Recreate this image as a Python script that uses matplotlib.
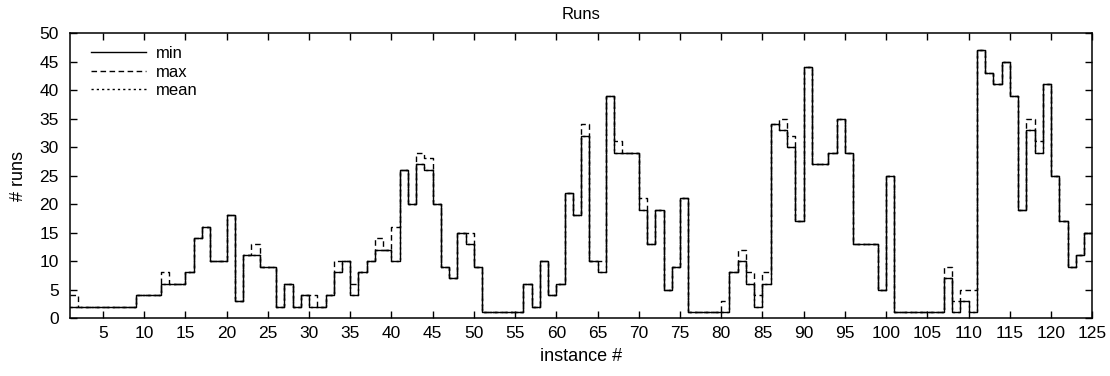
import matplotlib
matplotlib.use("Agg")
import matplotlib.pyplot as plt
from matplotlib.lines import Line2D

plt.rcParams['font.family'] = ['Liberation Sans', 'DejaVu Sans']
plt.rcParams['font.size'] = 12

# instance numbers
instances = list(range(1, 126))

# minimum number of runs per instance
runs_min = [
    2, 2, 2, 2, 2, 2, 2, 2, 4, 4,          # 1-10
    4, 6, 6, 6, 8, 14, 16, 10, 10, 18,     # 11-20
    3, 11, 11, 9, 9, 2, 6, 2, 4, 2,        # 21-30
    2, 4, 8, 10, 4, 8, 10, 12, 12, 10,     # 31-40
    26, 20, 27, 26, 20, 9, 7, 15, 13, 9,   # 41-50
    1, 1, 1, 1, 1, 6, 2, 10, 4, 6,         # 51-60
    22, 18, 32, 10, 8, 39, 29, 29, 29, 19, # 61-70
    13, 19, 5, 9, 21, 1, 1, 1, 1, 1,       # 71-80
    8, 10, 6, 2, 6, 34, 33, 30, 17, 44,    # 81-90
    27, 27, 29, 35, 29, 13, 13, 13, 5, 25, # 91-100
    1, 1, 1, 1, 1, 1, 7, 1, 3, 1,          # 101-110
    47, 43, 41, 45, 39, 19, 33, 29, 41, 25,# 111-120
    17, 9, 11, 15, 15,                     # 121-125
]

# maximum number of runs per instance
runs_max = [
    4, 2, 2, 2, 2, 2, 2, 2, 4, 4,
    4, 8, 6, 6, 8, 14, 16, 10, 10, 18,
    3, 11, 13, 9, 9, 2, 6, 2, 4, 4,
    2, 4, 10, 10, 6, 8, 10, 14, 12, 16,
    26, 20, 29, 28, 20, 9, 7, 15, 15, 9,
    1, 1, 1, 1, 1, 6, 2, 10, 4, 6,
    22, 18, 34, 10, 10, 39, 31, 29, 29, 21,
    13, 19, 5, 9, 21, 1, 1, 1, 1, 3,
    8, 12, 8, 4, 8, 34, 35, 32, 17, 44,
    27, 27, 29, 35, 29, 13, 13, 13, 5, 25,
    1, 1, 1, 1, 1, 1, 9, 3, 5, 5,
    47, 43, 41, 45, 39, 19, 35, 31, 41, 25,
    17, 9, 11, 15, 15,
]

# mean number of runs per instance
runs_mean = [
    2, 2, 2, 2, 2, 2, 2, 2, 4, 4,
    4, 6, 6, 6, 8, 14, 16, 10, 10, 18,
    3, 11, 11, 9, 9, 2, 6, 2, 4, 2,
    2, 4, 8, 10, 4, 8, 10, 12, 12, 10,
    26, 20, 27, 26, 20, 9, 7, 15, 13, 9,
    1, 1, 1, 1, 1, 6, 2, 10, 4, 6,
    22, 18, 32, 10, 8, 39, 29, 29, 29, 19,
    13, 19, 5, 9, 21, 1, 1, 1, 1, 1,
    8, 10, 6, 2, 6, 34, 33, 30, 17, 44,
    27, 27, 29, 35, 29, 13, 13, 13, 5, 25,
    1, 1, 1, 1, 1, 1, 7, 1, 3, 1,
    47, 43, 41, 45, 39, 19, 33, 29, 41, 25,
    17, 9, 11, 15, 15,
]

x_ticks = list(range(5, 126, 5))
y_ticks = list(range(0, 51, 5))

fig = plt.figure(figsize=(11.10, 3.76), dpi=100)
ax = fig.add_axes([0.063, 0.154, 0.921, 0.758])

lw = 1.0
ax.step(instances, runs_min, where='post', color='black', lw=lw,
        linestyle='-')
ax.step(instances, runs_max, where='post', color='black', lw=lw,
        linestyle=(0, (4, 2.5)))
ax.step(instances, runs_mean, where='post', color='black', lw=lw,
        linestyle=(0, (1.6, 2.2)))

ax.set_xlim(1, 125)
ax.set_ylim(0, 50)
ax.set_xticks(x_ticks)
ax.set_yticks(y_ticks)

ax.tick_params(direction='in', length=5, width=1.0, top=True, right=True,
               labelsize=12.5)
ax.tick_params(axis='y', pad=8)
ax.tick_params(axis='x', pad=6)
for sp in ax.spines.values():
    sp.set_linewidth(1.1)

ax.set_title('Runs', fontsize=12, pad=10)
ax.set_xlabel('instance #', fontsize=13, labelpad=5)
ax.set_ylabel('# runs', fontsize=13, labelpad=9)

handles = [
    Line2D([], [], color='black', lw=lw, linestyle='-'),
    Line2D([], [], color='black', lw=lw, linestyle=(0, (4, 2.5))),
    Line2D([], [], color='black', lw=lw, linestyle=(0, (1.6, 2.2))),
]
ax.legend(handles, ['min', 'max', 'mean'], loc='upper left',
          bbox_to_anchor=(0.021, 0.955), frameon=False, fontsize=12,
          handlelength=3.3, handletextpad=0.6, labelspacing=0.22,
          borderpad=0, borderaxespad=0)

fig.savefig('out.png', dpi=100)
